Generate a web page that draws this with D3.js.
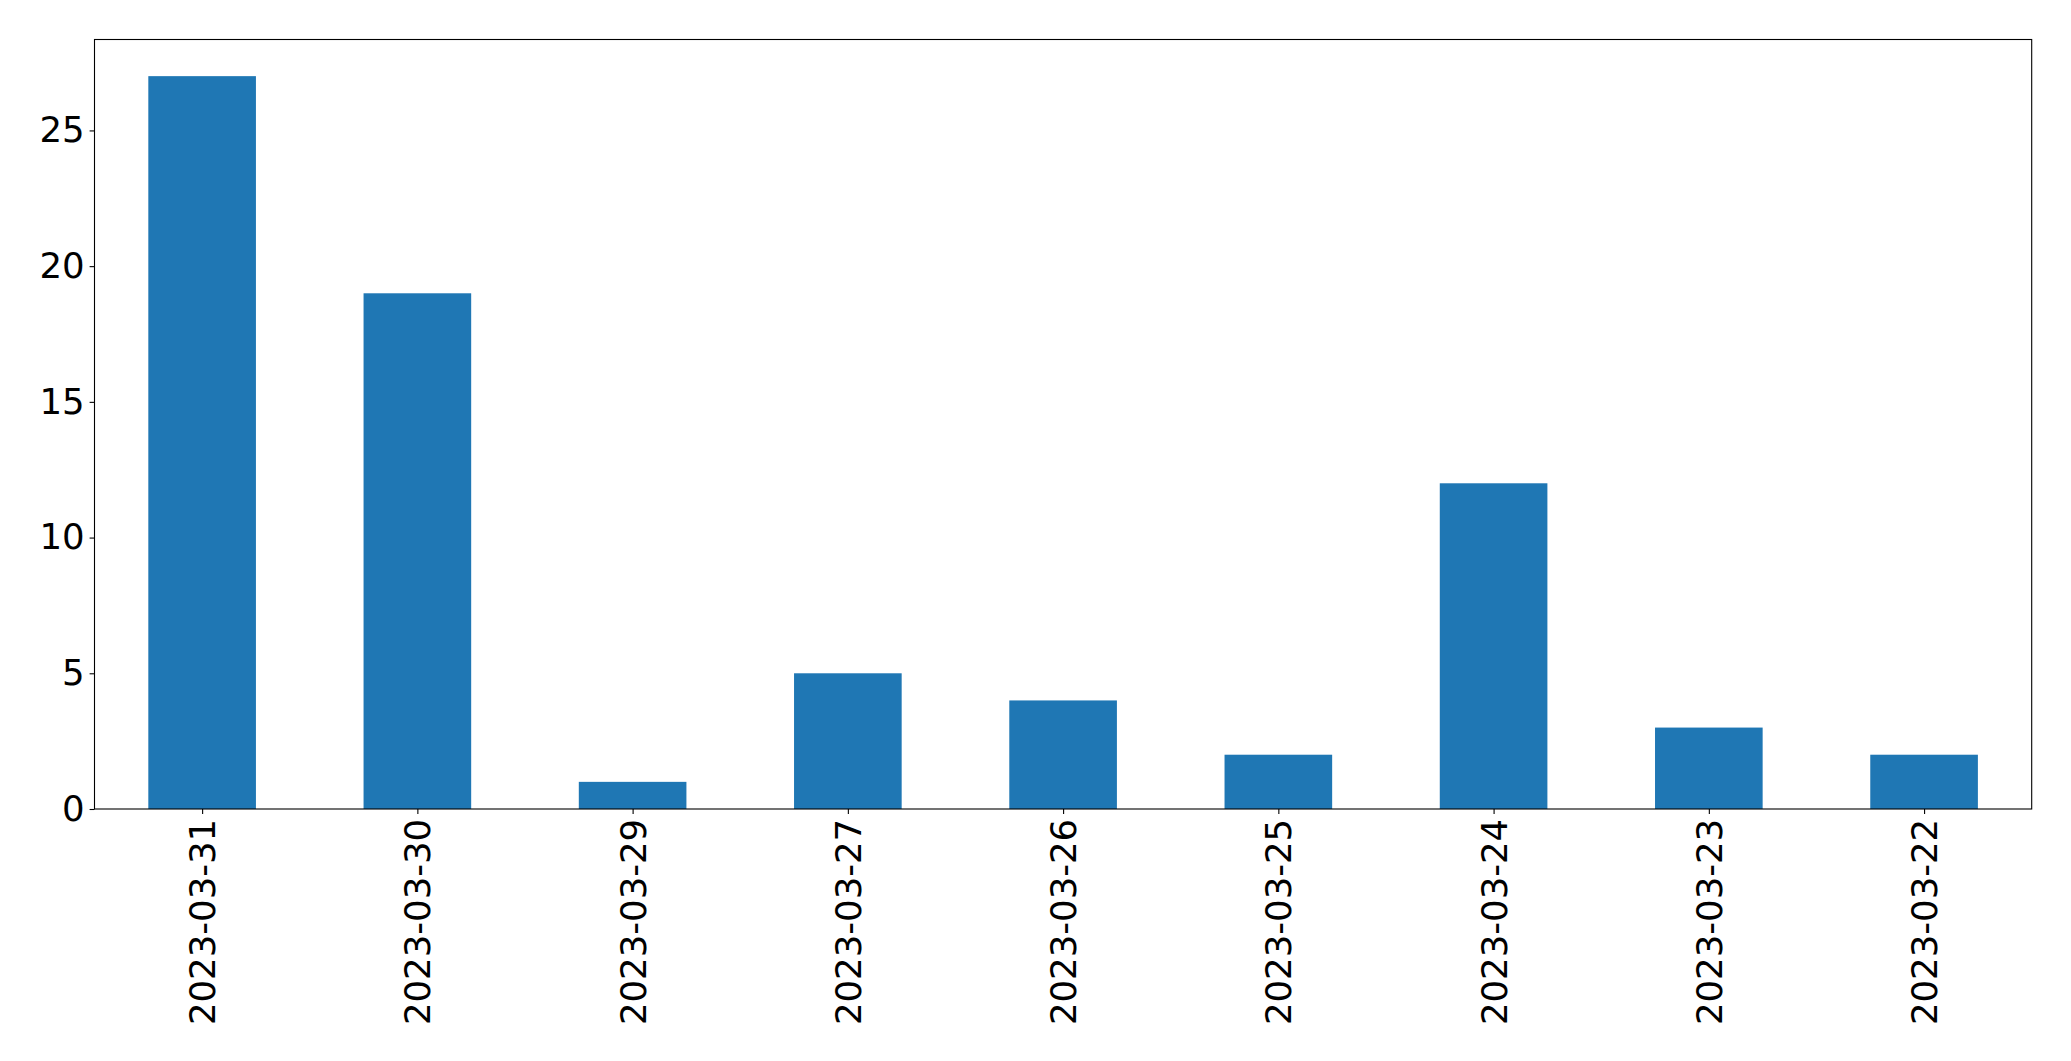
<!DOCTYPE html>
<html>
<head>
<meta charset="utf-8">
<script src="https://cdn.jsdelivr.net/npm/d3@7"></script>
<style>
  html, body { margin: 0; padding: 0; background: #fff; }
  svg { display: block; }
  text { font-family: "DejaVu Sans", sans-serif; fill: #000; }
</style>
</head>
<body>
<script>
const categories = ["2023-03-31","2023-03-30","2023-03-29","2023-03-27","2023-03-26","2023-03-25","2023-03-24","2023-03-23","2023-03-22"];
const values = [27, 19, 1, 5, 4, 2, 12, 3, 2];
const yTicks = [0, 5, 10, 15, 20, 25];

const W = 2071, H = 1061;
const mLeft = 94.5, mRight = 2031.7, mTop = 39.5, mBottom = 809;
const fontSize = 35.5;
const tickLen = 4.9, pad = 4.9;

const svg = d3.select("body").append("svg").attr("width", W).attr("height", H);

const x = d3.scaleLinear().domain([-0.5, categories.length - 0.5]).range([mLeft, mRight]);
const y = d3.scaleLinear().domain([0, d3.max(values) * 1.05]).range([mBottom, mTop]);

// bars
svg.append("g").selectAll("rect").data(values).join("rect")
  .attr("x", (d, i) => x(i - 0.25))
  .attr("width", (d, i) => x(i + 0.25) - x(i - 0.25))
  .attr("y", d => y(d))
  .attr("height", d => y(0) - y(d))
  .attr("fill", "#1f77b4");

// frame
svg.append("rect")
  .attr("x", mLeft).attr("y", mTop)
  .attr("width", mRight - mLeft).attr("height", mBottom - mTop)
  .attr("fill", "none").attr("stroke", "#000").attr("stroke-width", 1.1);

// y axis
const yAxis = d3.axisLeft(y).tickValues(yTicks).tickSize(tickLen).tickPadding(pad).tickFormat(d3.format("d"));
const gy = svg.append("g").attr("transform", `translate(${mLeft},0)`).call(yAxis);
gy.select(".domain").remove();
gy.selectAll(".tick line").attr("stroke", "#000").attr("stroke-width", 1.1);
gy.selectAll(".tick text").attr("font-size", fontSize).attr("font-family", "DejaVu Sans").attr("fill", "#000");

// x axis
const xAxis = d3.axisBottom(x).tickValues(d3.range(categories.length)).tickSize(tickLen).tickFormat(i => categories[i]);
const gx = svg.append("g").attr("transform", `translate(0,${mBottom})`).call(xAxis);
gx.select(".domain").remove();
gx.selectAll(".tick line").attr("stroke", "#000").attr("stroke-width", 1.1);
gx.selectAll(".tick text")
  .attr("font-size", fontSize).attr("font-family", "DejaVu Sans").attr("fill", "#000")
  .attr("text-anchor", "end")
  .attr("dy", null)
  .attr("y", 0)
  .attr("dominant-baseline", "central")
  .attr("transform", `translate(0,${tickLen + pad}) rotate(-90)`);
</script>
</body>
</html>
